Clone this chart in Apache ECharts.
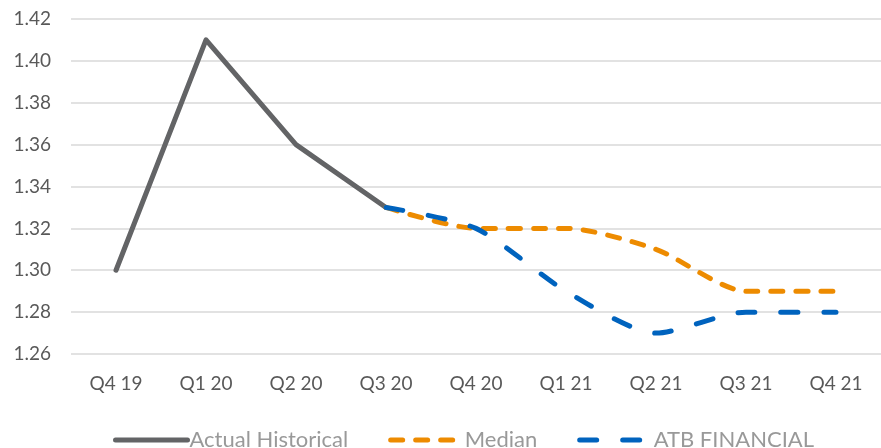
<!DOCTYPE html>
<html>
<head>
<meta charset="utf-8">
<script src="https://cdn.jsdelivr.net/npm/echarts@6/dist/echarts.min.js"></script>
<style>
  html, body { margin: 0; padding: 0; background: #fff; }
  #chart { width: 881px; height: 448px; }
</style>
</head>
<body>
<div id="chart"></div>
<script>
// Quarterly categories along the x axis
const quarters = ['Q4 19', 'Q1 20', 'Q2 20', 'Q3 20', 'Q4 20', 'Q1 21', 'Q2 21', 'Q3 21', 'Q4 21'];
// Reported values up to Q3 20
const actualHistorical = [1.30, 1.41, 1.36, 1.33, null, null, null, null, null];
// Forecast medians from Q3 20 onward
const medianForecast = [null, null, null, 1.33, 1.32, 1.32, 1.31, 1.29, 1.29];
// ATB Financial forecast from Q3 20 onward
const atbForecast = [null, null, null, 1.33, 1.32, 1.29, 1.27, 1.28, 1.28];
// Value axis range and step
const yMin = 1.26, yMax = 1.42, yStep = 0.02;

const fontFamily = 'Lato, "Open Sans", sans-serif';
const chart = echarts.init(document.getElementById('chart'), null, { renderer: 'canvas' });

chart.setOption({
  animation: false,
  textStyle: { fontFamily },
  grid: { left: 71, right: 0, top: 19, bottom: 94, containLabel: false },
  xAxis: {
    type: 'category',
    data: quarters,
    boundaryGap: true,
    axisLine: { show: false },
    axisTick: { show: false },
    axisLabel: { color: '#595959', fontSize: 19, margin: 20, fontFamily }
  },
  yAxis: {
    type: 'value',
    min: yMin, max: yMax, interval: yStep,
    axisLine: { show: false },
    axisTick: { show: false },
    splitLine: { lineStyle: { color: '#d9d9d9', width: 1.5 } },
    axisLabel: {
      color: '#595959', fontSize: 19, margin: 20, fontFamily,
      formatter: v => v.toFixed(2)
    }
  },
  legend: {
    bottom: -3,
    left: 113,
    padding: 0,
    itemWidth: 72,
    itemHeight: 8,
    itemGap: 40,
    itemStyle: { opacity: 0 },
    lineStyle: { width: 5, cap: 'round' },
    textStyle: { color: '#999999', fontSize: 22, fontFamily, padding: [0, 0, 0, -3] },
    data: ['Actual Historical', 'Median', 'ATB FINANCIAL']
  },
  series: [
    {
      name: 'Actual Historical',
      type: 'line',
      data: actualHistorical,
      showSymbol: false,
      symbol: 'none',
      lineStyle: { color: '#636466', width: 5, cap: 'round', join: 'round' },
      itemStyle: { color: '#636466' }
    },
    {
      name: 'Median',
      type: 'line',
      data: medianForecast,
      smooth: 0.25,
      showSymbol: false,
      symbol: 'none',
      lineStyle: { color: '#ed8b00', width: 5, type: [12, 13], cap: 'round', join: 'round' },
      itemStyle: { color: '#ed8b00' }
    },
    {
      name: 'ATB FINANCIAL',
      type: 'line',
      data: atbForecast,
      smooth: 0.25,
      showSymbol: false,
      symbol: 'none',
      lineStyle: { color: '#0063be', width: 5, type: [17, 26], cap: 'round', join: 'round' },
      itemStyle: { color: '#0063be' }
    }
  ]
});
</script>
</body>
</html>
